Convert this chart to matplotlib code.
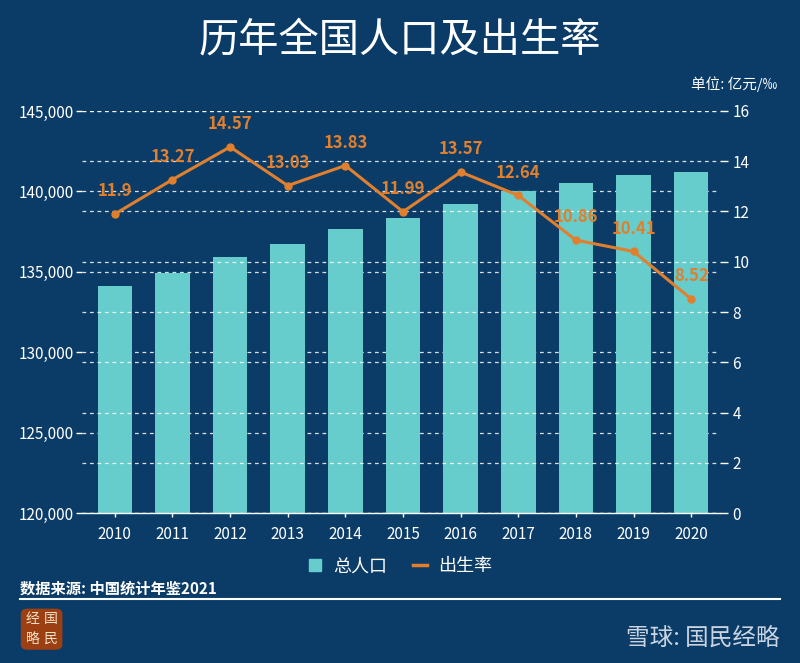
import matplotlib.pyplot as plt
from matplotlib.patches import FancyBboxPatch
from matplotlib.lines import Line2D
import numpy as np

plt.rcParams['font.family'] = ['Noto Sans CJK SC', 'DejaVu Sans']

# --- data ---
years = ["2010", "2011", "2012", "2013", "2014", "2015", "2016", "2017", "2018", "2019", "2020"]
population = [134091, 134916, 135922, 136726, 137646, 138326, 139232, 140011, 140541, 141008, 141212]
birth_rate = [11.90, 13.27, 14.57, 13.03, 13.83, 11.99, 13.57, 12.64, 10.86, 10.41, 8.52]
rate_labels = ["11.9", "13.27", "14.57", "13.03", "13.83", "11.99", "13.57", "12.64", "10.86", "10.41", "8.52"]

bg = "#0b3c68"
bar_color = "#66cccc"
line_color = "#e0802e"
white = "#ffffff"

fig = plt.figure(figsize=(8, 6.63), dpi=100, facecolor=bg)
ax = fig.add_axes([0.1025, 0.2262, 0.7975, 0.6064])
ax.set_facecolor(bg)

x = np.arange(len(years))
ax.bar(x, population, width=0.6, color=bar_color, zorder=2)
ax.set_ylim(120000, 145000)
ax.set_yticks(range(120000, 145001, 5000))
ax.set_yticklabels([f"{v:,}" for v in range(120000, 145001, 5000)])
ax.set_xlim(-0.57, 10.5)
ax.set_xticks(x)
ax.set_xticklabels(years)
ax.grid(axis="y", color=white, linestyle=(0, (3, 3)), linewidth=0.9, alpha=0.85, zorder=1)
ax.set_axisbelow(True)
for s in ["top", "right", "left"]:
    ax.spines[s].set_visible(False)
ax.spines["bottom"].set_color(white)
ax.spines["bottom"].set_linewidth(1.0)
ax.tick_params(axis="y", colors=white, labelsize=11, length=4, width=1, pad=2)
ax.tick_params(axis="x", colors=white, labelsize=11, length=3, width=1, pad=6)

ax2 = ax.twinx()
ax2.plot(x, birth_rate, color=line_color, linewidth=2.2, marker="o", markersize=5, zorder=5)
for xi, yi, lab in zip(x, birth_rate, rate_labels):
    ax2.text(xi, yi + 0.55, lab, color=line_color, fontsize=12, fontweight="bold",
             ha="center", va="bottom", zorder=6)
ax2.set_ylim(0, 16)
ax2.set_yticks(range(0, 17, 2))
ax2.grid(axis="y", color=white, linestyle=(0, (3, 3)), linewidth=0.9, alpha=0.85)
for s in ["top", "right", "left", "bottom"]:
    ax2.spines[s].set_visible(False)
ax2.tick_params(axis="y", colors=white, labelsize=11, length=6, width=1, pad=3)

# title and notes
fig.text(0.5, 0.94, "历年全国人口及出生率", color=white, fontsize=29,
         ha="center", va="center")
fig.text(0.918, 0.873, "单位: 亿元/‰", color=white, fontsize=10.5, ha="center", va="center")

# legend
handles = [
    Line2D([0], [0], marker="s", color="none", markerfacecolor=bar_color,
           markeredgecolor=bar_color, markersize=9, label="总人口"),
    Line2D([0], [0], color=line_color, linewidth=2.5, label="出生率"),
]
leg = fig.legend(handles=handles, loc="center", bbox_to_anchor=(0.5, 0.146), ncol=2,
                 frameon=False, fontsize=13, handlelength=0.8, columnspacing=1.4,
                 handletextpad=0.6)
for t in leg.get_texts():
    t.set_color(white)

# source and rule
fig.text(0.025, 0.113, "数据来源: 中国统计年鉴2021", color=white, fontsize=11,
         fontweight="bold", ha="left", va="center")
fig.add_artist(Line2D([0.025, 0.975], [0.097, 0.097], color=white, linewidth=1.5))

# logo
logo = FancyBboxPatch((0.028, 0.022), 0.048, 0.058, boxstyle="round,pad=0.002,rounding_size=0.008",
                      transform=fig.transFigure, facecolor="#9c3f12", edgecolor="none")
fig.add_artist(logo)
fig.text(0.041, 0.066, "经", color="#f3e4c8", fontsize=10, ha="center", va="center")
fig.text(0.064, 0.066, "国", color="#f3e4c8", fontsize=10, ha="center", va="center")
fig.text(0.041, 0.036, "略", color="#f3e4c8", fontsize=10, ha="center", va="center")
fig.text(0.064, 0.036, "民", color="#f3e4c8", fontsize=10, ha="center", va="center")

# watermark
fig.text(0.975, 0.038, "雪球: 国民经略", color="#dfe6ee", fontsize=17, ha="right", va="center",
         alpha=0.9)

fig.savefig("out.png", dpi=100, facecolor=bg)
